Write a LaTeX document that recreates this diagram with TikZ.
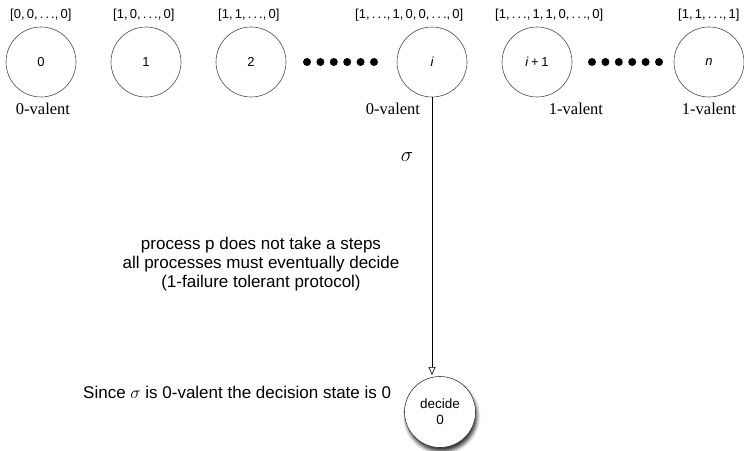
\documentclass[tikz,border=0pt]{standalone}
\usepackage{fontspec}
\setmainfont{Liberation Sans}
\newfontfamily\valentfont{Liberation Serif}
\usetikzlibrary{arrows.meta,shadows.blur}

% dots of an ellipsis inside a vector label
\newcommand{\vecdots}{.\kern.16em.\kern.16em.}

\tikzset{
  state/.style={circle, draw=black!70, line width=0.6pt, minimum size=70pt,
                inner sep=0pt, font=\fontsize{13}{15}\selectfont},
  vec/.style={font=\fontsize{13}{15}\selectfont, inner sep=0pt, anchor=west},
  valent/.style={font=\valentfont\fontsize{16.5}{18}\selectfont, inner sep=0pt},
  note/.style={font=\fontsize{17}{19}\selectfont, align=center, inner sep=0pt},
  decision/.style={circle, draw=black!80, fill=white, line width=0.6pt,
                   minimum size=71pt, inner sep=0pt, align=center,
                   font=\fontsize{13.5}{16}\selectfont,
                   blur shadow={shadow xshift=1.5pt, shadow yshift=-4pt,
                                shadow blur radius=3.5pt, shadow opacity=80}},
  sigmaarrow/.style={line width=0.6pt, -{Triangle[open, length=8pt, width=7pt]}},
  chaindot/.style={fill=black}
}

\begin{document}
\begin{tikzpicture}[x=1pt, y=-1pt]
  \useasboundingbox (0,0) rectangle (744,450);

  % states along the chain of initial configurations
  \node[state] (s0)  at (41,62)  {0};
  \node[state] (s1)  at (146,62) {1};
  \node[state] (s2)  at (251,62) {2};
  \node[state] (si)  at (432,62) {\itshape i};
  \node[state] (si1) at (537,62) {{\itshape i}\kern.22em+\kern.22em1};
  \node[state] (sn)  at (709,62) {\itshape n};

  % input vectors
  \node[vec] (v0)  at (10,15)  {[0,\,0,\,\vecdots,\,0]};
  \node[vec] (v1)  at (113,15) {[1,\,0,\,\vecdots,\,0]};
  \node[vec] (v2)  at (218,15) {[1,\,1,\,\vecdots,\,0]};
  \node[vec] (vi)  at (355,15) {[1,\,\vecdots,\,1,\,0,\,0,\,\vecdots,\,0]};
  \node[vec] (vi1) at (495,15) {[1,\,\vecdots,\,1,\,1,\,0,\,\vecdots,\,0]};
  \node[vec] (vn)  at (678,15) {[1,\,1,\,\vecdots,\,1]};

  % valence labels
  \node[valent] (l0)  at (43,109)  {0-valent};
  \node[valent] (li)  at (393,109) {0-valent};
  \node[valent] (li1) at (576,109) {1-valent};
  \node[valent] (ln)  at (709,109) {1-valent};

  % ellipses between states
  \foreach \k in {0,...,5} {
    \fill[chaindot] (307+13.4*\k,62) circle (4);
    \fill[chaindot] (592+13.4*\k,62) circle (4);
  }

  % the execution sigma
  \node[decision] (dec) at (440,412) {decide\\0};
  \coordinate (tip) at (432,375);
  \draw[sigmaarrow] (si.south) -- (tip);
  \node[font=\fontsize{20}{22}\selectfont, inner sep=0pt] (sig) at (407,157) {$\sigma$};

  \node[note] (why) at (261,264) {process p does not take a steps\\
    all processes must eventually decide\\(1-failure tolerant protocol)};
  \node[note, anchor=west] (conc) at (83,392)
    {Since $\sigma$ is 0-valent the decision state is 0};
\end{tikzpicture}
\end{document}
